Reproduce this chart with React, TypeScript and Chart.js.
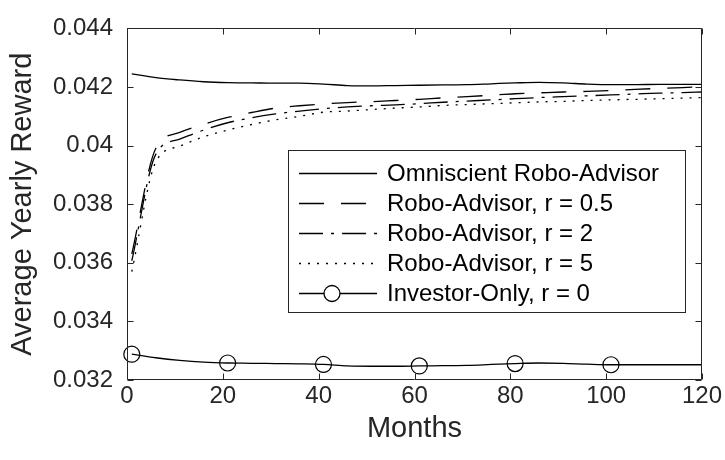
import React, { useEffect, useRef } from "react";
import { Chart, registerables } from "chart.js";

Chart.register(...registerables);

const months = [1, 6, 11, 16, 21, 26, 31, 36, 41, 46, 51, 56, 61, 66, 71, 76, 81, 86, 91, 96, 101, 106, 111, 116, 120];

const omniscient = [0.04245, 0.04232, 0.04224, 0.04218, 0.04215, 0.04214, 0.04213, 0.04213, 0.0421, 0.04205, 0.04204, 0.04205, 0.04206, 0.04207, 0.04208, 0.04211, 0.04214, 0.04216, 0.04214, 0.0421, 0.04208, 0.04208, 0.04209, 0.04209, 0.04209];
const roboR05 = [0.0363, 0.0399, 0.04045, 0.04073, 0.04096, 0.04113, 0.04128, 0.04136, 0.04142, 0.04147, 0.0415, 0.04154, 0.04158, 0.04163, 0.04167, 0.04172, 0.04177, 0.0418, 0.04183, 0.04185, 0.04188, 0.04192, 0.04195, 0.04198, 0.04201];
const roboR2 = [0.03607, 0.0397, 0.04022, 0.04053, 0.04078, 0.04095, 0.04108, 0.04118, 0.04126, 0.04132, 0.04136, 0.04139, 0.04143, 0.04148, 0.04152, 0.04156, 0.0416, 0.04164, 0.04167, 0.0417, 0.04173, 0.04176, 0.04179, 0.04181, 0.04183];
const roboR5 = [0.0357, 0.03944, 0.03998, 0.0403, 0.04053, 0.04072, 0.04088, 0.041, 0.04114, 0.04118, 0.04123, 0.04128, 0.04132, 0.04137, 0.0414, 0.04143, 0.04146, 0.04149, 0.04151, 0.04154, 0.04156, 0.04158, 0.0416, 0.04162, 0.04164];
const investorOnly = [0.03288, 0.03276, 0.03267, 0.03261, 0.03258, 0.03257, 0.03256, 0.03255, 0.03253, 0.03248, 0.03247, 0.03247, 0.03248, 0.03249, 0.0325, 0.03253, 0.03256, 0.03258, 0.03257, 0.03254, 0.03252, 0.03252, 0.03252, 0.03252, 0.03252];
const markerMonths = [1, 21, 41, 61, 81, 101];

const seriesLabels = [
  "Omniscient Robo-Advisor",
  "Robo-Advisor, r = 0.5",
  "Robo-Advisor, r = 2",
  "Robo-Advisor, r = 5",
  "Investor-Only, r = 0",
];

const xTicks = [0, 20, 40, 60, 80, 100, 120];
const yTicks = [0.032, 0.034, 0.036, 0.038, 0.04, 0.042, 0.044];

const FONT = "'Liberation Sans', Arial, Helvetica, sans-serif";
const AXIS = "#262626";

const toPoints = (vals: number[]) => vals.map((v, i) => ({ x: months[i], y: v }));

const framePlugin = {
  id: "frameAndLegend",
  afterDatasetsDraw(chart: any) {
    const { ctx, chartArea } = chart;
    const { left, right, top, bottom } = chartArea;
    const xs = chart.scales.x;
    const ys = chart.scales.y;
    ctx.save();
    ctx.strokeStyle = AXIS;
    ctx.lineWidth = 1;
    const L = Math.round(left) + 0.5;
    const R = Math.round(right) - 0.5;
    const T = Math.round(top) + 0.5;
    const B = Math.round(bottom) - 0.5;
    ctx.beginPath();
    ctx.rect(L, T, R - L, B - T);
    ctx.stroke();
    const tl = 6;
    ctx.beginPath();
    xTicks.forEach((v) => {
      const px = Math.round(xs.getPixelForValue(v)) + 0.5;
      ctx.moveTo(px, B);
      ctx.lineTo(px, B - tl);
      ctx.moveTo(px, T);
      ctx.lineTo(px, T + tl);
    });
    yTicks.forEach((v) => {
      const py = Math.round(ys.getPixelForValue(v)) + 0.5;
      ctx.moveTo(L, py);
      ctx.lineTo(L + tl, py);
      ctx.moveTo(R, py);
      ctx.lineTo(R - tl, py);
    });
    ctx.stroke();

    // legend
    const bx = 288.5, by = 150.5, bw = 397, bh = 162;
    ctx.fillStyle = "#ffffff";
    ctx.fillRect(bx, by, bw, bh);
    ctx.strokeStyle = AXIS;
    ctx.strokeRect(bx, by, bw, bh);
    const rowY0 = 173, rowGap = 30;
    const lx0 = 299, lx1 = 377, tx = 387;
    ctx.font = `24px ${FONT}`;
    ctx.textBaseline = "middle";
    ctx.textAlign = "left";
    chart.data.datasets.forEach((ds: any, i: number) => {
      const yy = Math.round(rowY0 + i * rowGap) + 0.5;
      ctx.save();
      ctx.strokeStyle = ds.borderColor;
      ctx.lineWidth = ds.borderWidth;
      ctx.setLineDash(ds.borderDash || []);
      ctx.beginPath();
      ctx.moveTo(lx0, yy);
      ctx.lineTo(lx1, yy);
      ctx.stroke();
      ctx.setLineDash([]);
      if (ds.legendMarker) {
        ctx.beginPath();
        ctx.arc((lx0 + lx1) / 2 - 6, yy, 8, 0, Math.PI * 2);
        ctx.fillStyle = "#ffffff";
        ctx.fill();
        ctx.stroke();
      }
      ctx.restore();
      ctx.fillStyle = "#000000";
      ctx.fillText(ds.label, tx, yy + 1);
    });
    ctx.restore();
  },
};

export default function App() {
  const ref = useRef<HTMLCanvasElement | null>(null);
  useEffect(() => {
    if (!ref.current) return;
    const lineBase = {
      borderColor: "#000000",
      borderWidth: 1.3,
      pointRadius: 0,
      fill: false,
      cubicInterpolationMode: "monotone" as const,
    };
    const chart = new Chart(ref.current, {
      type: "line",
      data: {
        datasets: [
          { ...lineBase, label: seriesLabels[0], data: toPoints(omniscient), borderDash: [] },
          { ...lineBase, label: seriesLabels[1], data: toPoints(roboR05), borderDash: [25, 17] },
          { ...lineBase, label: seriesLabels[2], data: toPoints(roboR2), borderDash: [24, 8, 3, 8] },
          { ...lineBase, label: seriesLabels[3], data: toPoints(roboR5), borderDash: [2, 7] },
          {
            ...lineBase,
            label: seriesLabels[4],
            data: toPoints(investorOnly),
            borderDash: [],
            legendMarker: true,
            clip: false,
            pointStyle: "circle",
            pointRadius: (c: any) => (markerMonths.includes(months[c.dataIndex]) ? 8 : 0),
            pointBorderColor: "#000000",
            pointBackgroundColor: "rgba(0,0,0,0)",
            pointBorderWidth: 1.2,
          } as any,
        ],
      },
      options: {
        responsive: false,
        animation: false,
        devicePixelRatio: 1,
        layout: { padding: { top: 17, right: 23, left: 0, bottom: 0 } },
        plugins: { legend: { display: false }, tooltip: { enabled: false } },
        scales: {
          x: {
            type: "linear",
            min: 0,
            max: 120,
            afterFit: (s: any) => {
              s.height = 80;
            },
            afterBuildTicks: (s: any) => {
              s.ticks = xTicks.map((v) => ({ value: v }));
            },
            grid: { display: false, drawTicks: false },
            border: { display: false },
            ticks: {
              padding: 2,
              color: AXIS,
              font: { family: FONT, size: 24 },
              maxRotation: 0,
              autoSkip: false,
            },
            title: {
              display: true,
              text: "Months",
              color: AXIS,
              font: { family: FONT, size: 29 },
              padding: { top: 0, bottom: 14 },
            },
          },
          y: {
            type: "linear",
            min: 0.032,
            max: 0.044,
            afterFit: (s: any) => {
              s.width = 127;
            },
            afterBuildTicks: (s: any) => {
              s.ticks = yTicks.map((v) => ({ value: v }));
            },
            grid: { display: false, drawTicks: false },
            border: { display: false },
            ticks: {
              padding: 14,
              color: AXIS,
              font: { family: FONT, size: 24 },
              autoSkip: false,
              callback: (v: any) => String(Number(Number(v).toFixed(3))),
            },
            title: {
              display: true,
              text: "Average Yearly Reward",
              color: AXIS,
              font: { family: FONT, size: 29 },
              padding: { top: 6, bottom: 0 },
            },
          },
        },
      },
      plugins: [framePlugin],
    } as any);
    return () => chart.destroy();
  }, []);
  return (
    <div style={{ position: "absolute", left: 0, top: 0, width: 725, height: 460, background: "#fff" }}>
      <canvas ref={ref} width={725} height={460} />
    </div>
  );
}
